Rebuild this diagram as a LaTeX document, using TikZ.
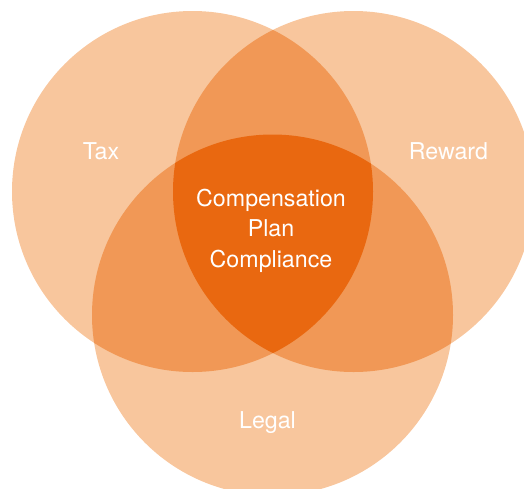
\documentclass[tikz,border=0pt]{standalone}
\usepackage{fontspec}
\setmainfont{TeX Gyre Heros}
\definecolor{peachone}{RGB}{248,198,157}
\definecolor{peachtwo}{RGB}{241,152,86}
\definecolor{peachthree}{RGB}{233,104,16}
\tikzset{
  setlabel/.style={text=white,font=\fontsize{23.2}{30.5}\selectfont,align=center,anchor=base},
  onefill/.style={fill=peachone},
  twofill/.style={fill=peachtwo},
  threefill/.style={fill=peachthree}
}
\begin{document}
\begin{tikzpicture}[x=1pt,y=1pt,yscale=-1,xscale=1]
\useasboundingbox (0,0) rectangle (524,488);
\clip (0,0) rectangle (524,488);

%Shape: Circle [Tax]
\fill [onefill] (192.5,191.5) circle [radius=180.5];
%Shape: Circle [Reward]
\fill [onefill] (353.5,191.5) circle [radius=180.5];
%Shape: Circle [Legal]
\fill [onefill] (272.5,315) circle [radius=180.5];

%Shape: Lens [Tax, Reward]
\begin{scope}
\clip (192.5,191.5) circle [radius=180.5];
\fill [twofill] (353.5,191.5) circle [radius=180.5];
\end{scope}
%Shape: Lens [Tax, Legal]
\begin{scope}
\clip (192.5,191.5) circle [radius=180.5];
\fill [twofill] (272.5,315) circle [radius=180.5];
\end{scope}
%Shape: Lens [Reward, Legal]
\begin{scope}
\clip (353.5,191.5) circle [radius=180.5];
\fill [twofill] (272.5,315) circle [radius=180.5];
\end{scope}
%Shape: Centre [all three]
\begin{scope}
\clip (192.5,191.5) circle [radius=180.5];
\clip (353.5,191.5) circle [radius=180.5];
\fill [threefill] (272.5,315) circle [radius=180.5];
\end{scope}

% Text Node
\node [setlabel] (tax) at (101,159) {Tax};
% Text Node
\node [setlabel] (reward) at (448.5,159) {Reward};
% Text Node
\node [setlabel] (legal) at (267.5,428) {Legal};
% Text Node
\node [setlabel] (plan) at (271,267) {Compensation\\Plan\\Compliance};

\end{tikzpicture}
\end{document}
